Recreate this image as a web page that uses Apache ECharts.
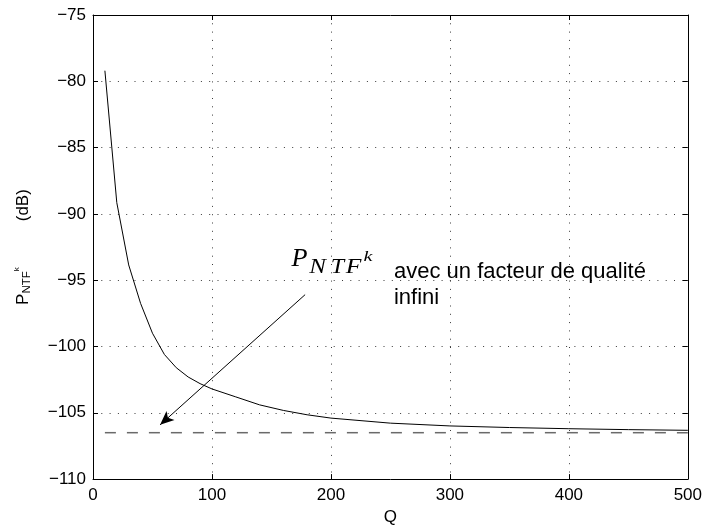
<!DOCTYPE html>
<html>
<head>
<meta charset="utf-8">
<script src="https://cdn.jsdelivr.net/npm/echarts@6/dist/echarts.min.js"></script>
<style>
  html, body { margin: 0; padding: 0; background: #fff; }
  #chart { width: 705px; height: 531px; }
</style>
</head>
<body>
<div id="chart"></div>
<script>
// ---- data ----
const qValues = [10, 20, 30, 40, 50, 60, 70, 80, 90, 100, 120, 140, 160, 180, 200, 250, 300, 350, 400, 450, 500];
const pNtfDb = [-79.2, -89.15, -93.85, -96.75, -99.0, -100.6, -101.6, -102.3, -102.8, -103.2, -103.8, -104.4, -104.82, -105.15, -105.4, -105.78, -105.99, -106.11, -106.2, -106.27, -106.32];
const infiniteQ = [10, 500];
const infiniteDb = [-106.5, -106.5];
const xTicks = [0, 100, 200, 300, 400, 500];
const yTicks = [-110, -105, -100, -95, -90, -85, -80, -75];

// annotation anchors (data space)
const arrowFrom = [178.3, -96.09];
const arrowTo = [56.4, -105.91];
const symbolAnchor = [166.8, -94.10];
const textAnchor = [253.0, -94.92];

const chart = echarts.init(document.getElementById('chart'), null, { renderer: 'canvas' });

const FONT = 'Liberation Sans, Arial, Helvetica, sans-serif';
const minus = v => String(v).replace('-', '\u2212');

const xMin = xTicks[0], xMax = xTicks[xTicks.length - 1], xStep = xTicks[1] - xTicks[0];
const yMin = yTicks[0], yMax = yTicks[yTicks.length - 1], yStep = yTicks[1] - yTicks[0];

const gridDots = { color: '#3a3a3a', width: 1, type: [1, 7.3] };
const blackLine = { color: '#000', width: 1 };

const option = {
  animation: false,
  backgroundColor: '#fff',
  grid: { left: 93, right: 16, top: 15, bottom: 45, containLabel: false },
  xAxis: [
    {
      type: 'value', min: xMin, max: xMax, interval: xStep, position: 'bottom',
      axisLine: { show: true, onZero: false, lineStyle: blackLine },
      axisTick: { show: true, inside: true, length: 5, lineStyle: blackLine },
      axisLabel: { color: '#000', fontSize: 17, fontFamily: FONT, margin: 8, formatter: minus },
      splitLine: { show: true, lineStyle: gridDots },
      name: 'Q', nameLocation: 'middle', nameGap: 26,
      nameTextStyle: { color: '#000', fontSize: 17, fontFamily: FONT }
    },
    {
      type: 'value', min: xMin, max: xMax, interval: xStep, position: 'top',
      axisLine: { show: true, onZero: false, lineStyle: blackLine },
      axisTick: { show: true, inside: true, length: 5, lineStyle: blackLine },
      axisLabel: { show: false }, splitLine: { show: false }
    }
  ],
  yAxis: [
    {
      type: 'value', min: yMin, max: yMax, interval: yStep, position: 'left',
      axisLine: { show: true, onZero: false, lineStyle: blackLine },
      axisTick: { show: true, inside: true, length: 5, lineStyle: blackLine },
      axisLabel: { color: '#000', fontSize: 17, fontFamily: FONT, margin: 7, formatter: minus },
      splitLine: { show: true, lineStyle: gridDots },
      name: '{p|P}{s|NTF}{k|k}{g| }{u|(dB)}',
      nameLocation: 'middle', nameGap: 60, nameRotate: 90,
      nameTextStyle: {
        color: '#000', fontFamily: FONT,
        rich: {
          p: { fontSize: 17, fontFamily: FONT, color: '#000', lineHeight: 20 },
          s: { fontSize: 11.5, fontFamily: FONT, color: '#000', lineHeight: 14, verticalAlign: 'bottom' },
          k: { fontSize: 8, fontFamily: FONT, color: '#000', lineHeight: 14, verticalAlign: 'top' },
          g: { fontSize: 17, width: 46 },
          u: { fontSize: 17, fontFamily: FONT, color: '#000', lineHeight: 20 }
        }
      }
    },
    {
      type: 'value', min: yMin, max: yMax, interval: yStep, position: 'right',
      axisLine: { show: true, onZero: false, lineStyle: blackLine },
      axisTick: { show: true, inside: true, length: 5, lineStyle: blackLine },
      axisLabel: { show: false }, splitLine: { show: false }
    }
  ],
  series: [
    {
      name: 'infini', type: 'line', xAxisIndex: 0, yAxisIndex: 0,
      data: infiniteQ.map((q, i) => [q, infiniteDb[i]]),
      showSymbol: false, symbol: 'none', silent: true,
      lineStyle: { color: '#6a6a6a', width: 1.5, type: [11, 11] },
      z: 2
    },
    {
      name: 'PNTF', type: 'line', xAxisIndex: 0, yAxisIndex: 0,
      data: qValues.map((q, i) => [q, pNtfDb[i]]),
      showSymbol: false, symbol: 'none', smooth: false, silent: true,
      lineStyle: { color: '#000', width: 1 },
      z: 3,
      markLine: {
        silent: true, animation: false,
        symbol: ['none', 'arrow'], symbolSize: [9, 14],
        label: { show: false },
        lineStyle: { color: '#000', width: 1, type: 'solid' },
        data: [[{ coord: arrowFrom }, { coord: arrowTo }]]
      }
    }
  ]
};

chart.setOption(option);

function addAnnotations() {
  const a = chart.convertToPixel({ gridIndex: 0 }, symbolAnchor);
  const t = chart.convertToPixel({ gridIndex: 0 }, textAnchor);
  const serif = 'italic {S}px Liberation Serif, Times New Roman, serif';
  // letters of the math symbol, offsets from the P baseline-left point
  const letters = [
    { s: 'P', dx: 0, dy: 0, fs: 25, sx: 1.05 },
    { s: 'N', dx: 17.7, dy: 6, fs: 20, sx: 1.25 },
    { s: 'T', dx: 39.4, dy: 6, fs: 20, sx: 1.2 },
    { s: 'F', dx: 54.4, dy: 6, fs: 20, sx: 1.28 },
    { s: 'k', dx: 72, dy: -6, fs: 15, sx: 1.35 }
  ];
  const els = letters.map(l => ({
    type: 'text', silent: true,
    x: a[0] + l.dx, y: a[1] + l.dy - 0.34 * l.fs,
    scaleX: l.sx,
    style: {
      text: l.s, fill: '#000',
      font: serif.replace('{S}', l.fs),
      align: 'left', verticalAlign: 'middle'
    }
  }));
  const fs = 22;
  ['avec un facteur de qualit\u00e9', 'infini'].forEach((line, i) => {
    els.push({
      type: 'text', silent: true,
      x: t[0], y: t[1] + i * 26 - 0.35 * fs,
      style: {
        text: line, fill: '#000',
        font: fs + 'px ' + FONT,
        align: 'left', verticalAlign: 'middle'
      }
    });
  });
  chart.setOption({ graphic: { elements: els } });
}
addAnnotations();
</script>
</body>
</html>
